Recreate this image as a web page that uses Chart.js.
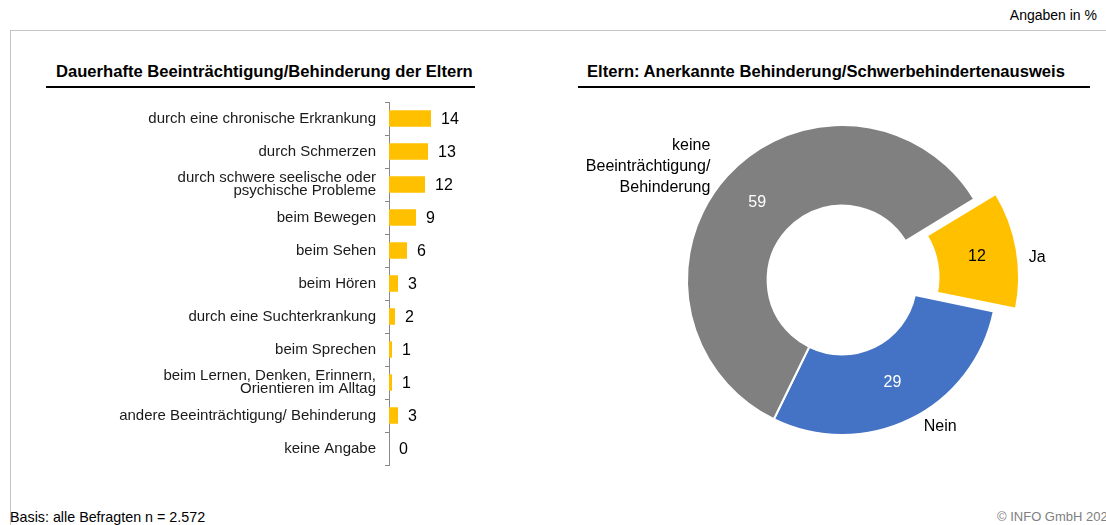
<!DOCTYPE html>
<html>
<head>
<meta charset="utf-8">
<script src="https://cdn.jsdelivr.net/npm/chart.js@4/dist/chart.umd.min.js"></script>
<style>
  body { margin: 0; width: 1106px; height: 525px; overflow: hidden; position: relative; background: #fff;
         font-family: Arial, "Liberation Sans", sans-serif; color: #000; }
  .abs { position: absolute; white-space: nowrap; }
  .frame { position: absolute; left: 10px; top: 30px; width: 1110px; height: 510px;
           border-top: 1px solid #c4c4c4; border-left: 1px solid #c4c4c4; }
  .title { font-weight: bold; font-size: 16.6px; line-height: 18px; }
  .rule { position: absolute; height: 2px; background: #000; }
  .small { font-size: 14px; line-height: 16px; }
</style>
</head>
<body>
<div class="frame"></div>
<div class="abs small" style="right:9px; top:7px;">Angaben in %</div>
<div class="abs title" style="left:56px; top:63px;">Dauerhafte Beeinträchtigung/Behinderung der Eltern</div>
<div class="rule" style="left:46px; top:86px; width:429px;"></div>
<div class="abs title" style="left:587px; top:63px;">Eltern: Anerkannte Behinderung/Schwerbehindertenausweis</div>
<div class="rule" style="left:578px; top:86px; width:512px;"></div>

<canvas id="barChart" class="abs" style="left:0; top:92px;" width="560" height="383"></canvas>
<canvas id="donutChart" class="abs" style="left:560px; top:92px;" width="546" height="376"></canvas>

<div class="abs small" style="left:10px; top:509px; font-size:14.3px;">Basis: alle Befragten n = 2.572</div>
<div class="abs small" style="left:997px; top:509px; font-size:13px; color:#808080;">© INFO GmbH 2022</div>

<script>
// bar chart data
const barLabels = [
  'durch eine chronische Erkrankung',
  'durch Schmerzen',
  ['durch schwere seelische oder', 'psychische Probleme'],
  'beim Bewegen',
  'beim Sehen',
  'beim Hören',
  'durch eine Suchterkrankung',
  'beim Sprechen',
  ['beim Lernen, Denken, Erinnern,', 'Orientieren im Alltag'],
  'andere Beeinträchtigung/ Behinderung',
  'keine Angabe'
];
const barValues = [14, 13, 12, 9, 6, 3, 2, 1, 1, 3, 0];

// donut data
const donutLabels = ['Ja', 'Nein', ['keine', 'Beeinträchtigung/', 'Behinderung']];
const donutValues = [12, 29, 59];

const donutColors = ['#FFC000', '#4472C4', '#808080'];
const donutValueColors = ['#000', '#fff', '#fff'];
const donutLabelAlign = ['left', 'center', 'right'];
const donutLabelNudge = [[12, 8.5], [30, 7], [-17, -9]];

// draws the numbers at the end of each bar
const barValuePlugin = {
  id: 'barValues',
  afterDatasetsDraw(chart) {
    const ctx = chart.ctx;
    const meta = chart.getDatasetMeta(0);
    ctx.save();
    ctx.font = '16px Arial, "Liberation Sans"';
    ctx.fillStyle = '#000';
    ctx.textAlign = 'left';
    ctx.textBaseline = 'middle';
    meta.data.forEach((bar, i) => {
      ctx.fillText(String(barValues[i]), bar.x + 10, bar.y + 1);
    });
    ctx.restore();
  }
};

new Chart(document.getElementById('barChart'), {
  type: 'bar',
  data: {
    labels: barLabels,
    datasets: [{
      data: barValues,
      backgroundColor: '#FFC000',
      borderWidth: 0,
      categoryPercentage: 1,
      barPercentage: 0.5
    }]
  },
  options: {
    indexAxis: 'y',
    responsive: false,
    animation: false,
    devicePixelRatio: 1,
    events: [],
    layout: { padding: { top: 10, bottom: 10, left: 0, right: 21 } },
    plugins: { legend: { display: false }, tooltip: { enabled: false } },
    scales: {
      x: { display: false, min: 0, max: 50 },
      y: {
        afterFit(scale) {
          scale.width = 389;
          scale.paddingTop = 0;
          scale.paddingBottom = 0;
        },
        border: { display: true, color: '#888', width: 1 },
        grid: { drawOnChartArea: false, drawTicks: true, tickLength: 4, color: '#888', offset: true },
        ticks: {
          color: '#1a1a1a',
          padding: 9,
          font: { family: 'Arial, "Liberation Sans"', size: 15, lineHeight: 0.9 }
        }
      }
    }
  },
  plugins: [barValuePlugin]
});

// numbers inside the ring and category names outside
const donutLabelPlugin = {
  id: 'donutLabels',
  afterDatasetsDraw(chart) {
    const ctx = chart.ctx;
    const meta = chart.getDatasetMeta(0);
    ctx.save();
    ctx.font = '16px Arial, "Liberation Sans"';
    meta.data.forEach((arc, i) => {
      const p = arc.getProps(['x', 'y', 'startAngle', 'endAngle', 'innerRadius', 'outerRadius', 'circumference']);
      // chart.js moves an exploded arc by offset/4 and widens it a little
      const shift = (arc.options.offset || 0) / 4;
      const grow = shift * (1 - Math.sin(Math.min(Math.PI, p.circumference)));
      const mid = (p.startAngle + p.endAngle) / 2;
      const cx = p.x + Math.cos(mid) * shift;
      const cy = p.y + Math.sin(mid) * shift;
      const rIn = (p.innerRadius + p.outerRadius) / 2 + grow;
      ctx.textAlign = 'center';
      ctx.textBaseline = 'middle';
      ctx.fillStyle = donutValueColors[i];
      ctx.fillText(String(donutValues[i]), cx + Math.cos(mid) * rIn, cy + Math.sin(mid) * rIn);

      const rOut = p.outerRadius + grow;
      const ax = cx + Math.cos(mid) * rOut + donutLabelNudge[i][0];
      const ay = cy + Math.sin(mid) * rOut + donutLabelNudge[i][1];
      const lines = [].concat(donutLabels[i]);
      const lh = 21;
      ctx.fillStyle = '#000';
      ctx.textAlign = donutLabelAlign[i];
      lines.forEach((t, k) => {
        ctx.fillText(t, ax, ay + (k - (lines.length - 1) / 2) * lh);
      });
    });
    ctx.restore();
  }
};

new Chart(document.getElementById('donutChart'), {
  type: 'doughnut',
  data: {
    labels: donutLabels,
    datasets: [{
      data: donutValues,
      backgroundColor: donutColors,
      borderColor: '#fff',
      borderWidth: 2,
      offset: [68, 0, 0]
    }]
  },
  options: {
    responsive: false,
    animation: false,
    devicePixelRatio: 1,
    events: [],
    rotation: 58.5,
    radius: 155,
    cutout: '48%',
    layout: { padding: { left: 18, right: 0, top: 0, bottom: 0 } },
    plugins: { legend: { display: false }, tooltip: { enabled: false } }
  },
  plugins: [donutLabelPlugin]
});
</script>
</body>
</html>
